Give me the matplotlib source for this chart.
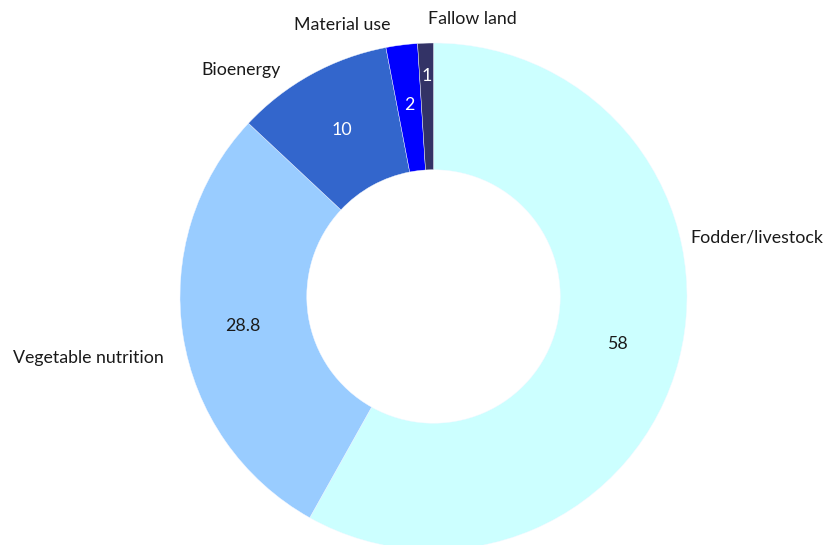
import matplotlib
matplotlib.use("Agg")
import matplotlib.pyplot as plt
import numpy as np

# Agricultural land use shares (%)
categories = ["Fodder/livestock", "Vegetable nutrition", "Bioenergy", "Material use", "Fallow land"]
values = [58, 28.8, 10, 2, 1]
value_labels = ["58", "28.8", "10", "2", "1"]
colors = ["#ccffff", "#99ccff", "#3366cc", "#0000ff", "#333366"]
value_colors = ["#1a1a1a", "#1a1a1a", "#ffffff", "#ffffff", "#ffffff"]
value_radius = [0.75, 0.76, 0.75, 0.76, 0.87]

# outer category label anchors (x, y, ha) in pie units
label_pos = [
    (1.012, 0.231, "left"),
    (-1.063, -0.243, "right"),
    (-0.602, 0.893, "right"),
    (-0.168, 1.071, "right"),
    (-0.022, 1.095, "left"),
]

plt.rcParams["font.family"] = ["Lato", "DejaVu Sans"]

W, H = 827, 545
fig = plt.figure(figsize=(W / 100, H / 100), dpi=100)
ax = fig.add_axes([0, 0, 1, 1])

wedges, _ = ax.pie(values, colors=colors, startangle=90, counterclock=False,
                   radius=1.0, wedgeprops=dict(width=0.5, edgecolor="#f4f8ff", linewidth=0.3))

# place the pie centre and scale within the canvas
cx, cy, r = 433.5, 296.5, 253.5
ax.set_xlim(-cx / r, (W - cx) / r)
ax.set_ylim(-(H - cy) / r, cy / r)
ax.set_aspect("equal", adjustable="datalim")
ax.axis("off")

for w, lab, col, rad in zip(wedges, value_labels, value_colors, value_radius):
    ang = np.deg2rad((w.theta1 + w.theta2) / 2)
    ax.text(rad * np.cos(ang), rad * np.sin(ang), lab, ha="center", va="center",
            fontsize=12.8, color=col)

for name, (x, y, ha) in zip(categories, label_pos):
    ax.text(x, y, name, ha=ha, va="center", fontsize=12.8, color="#1a1a1a")

fig.savefig("out.png", dpi=100)
